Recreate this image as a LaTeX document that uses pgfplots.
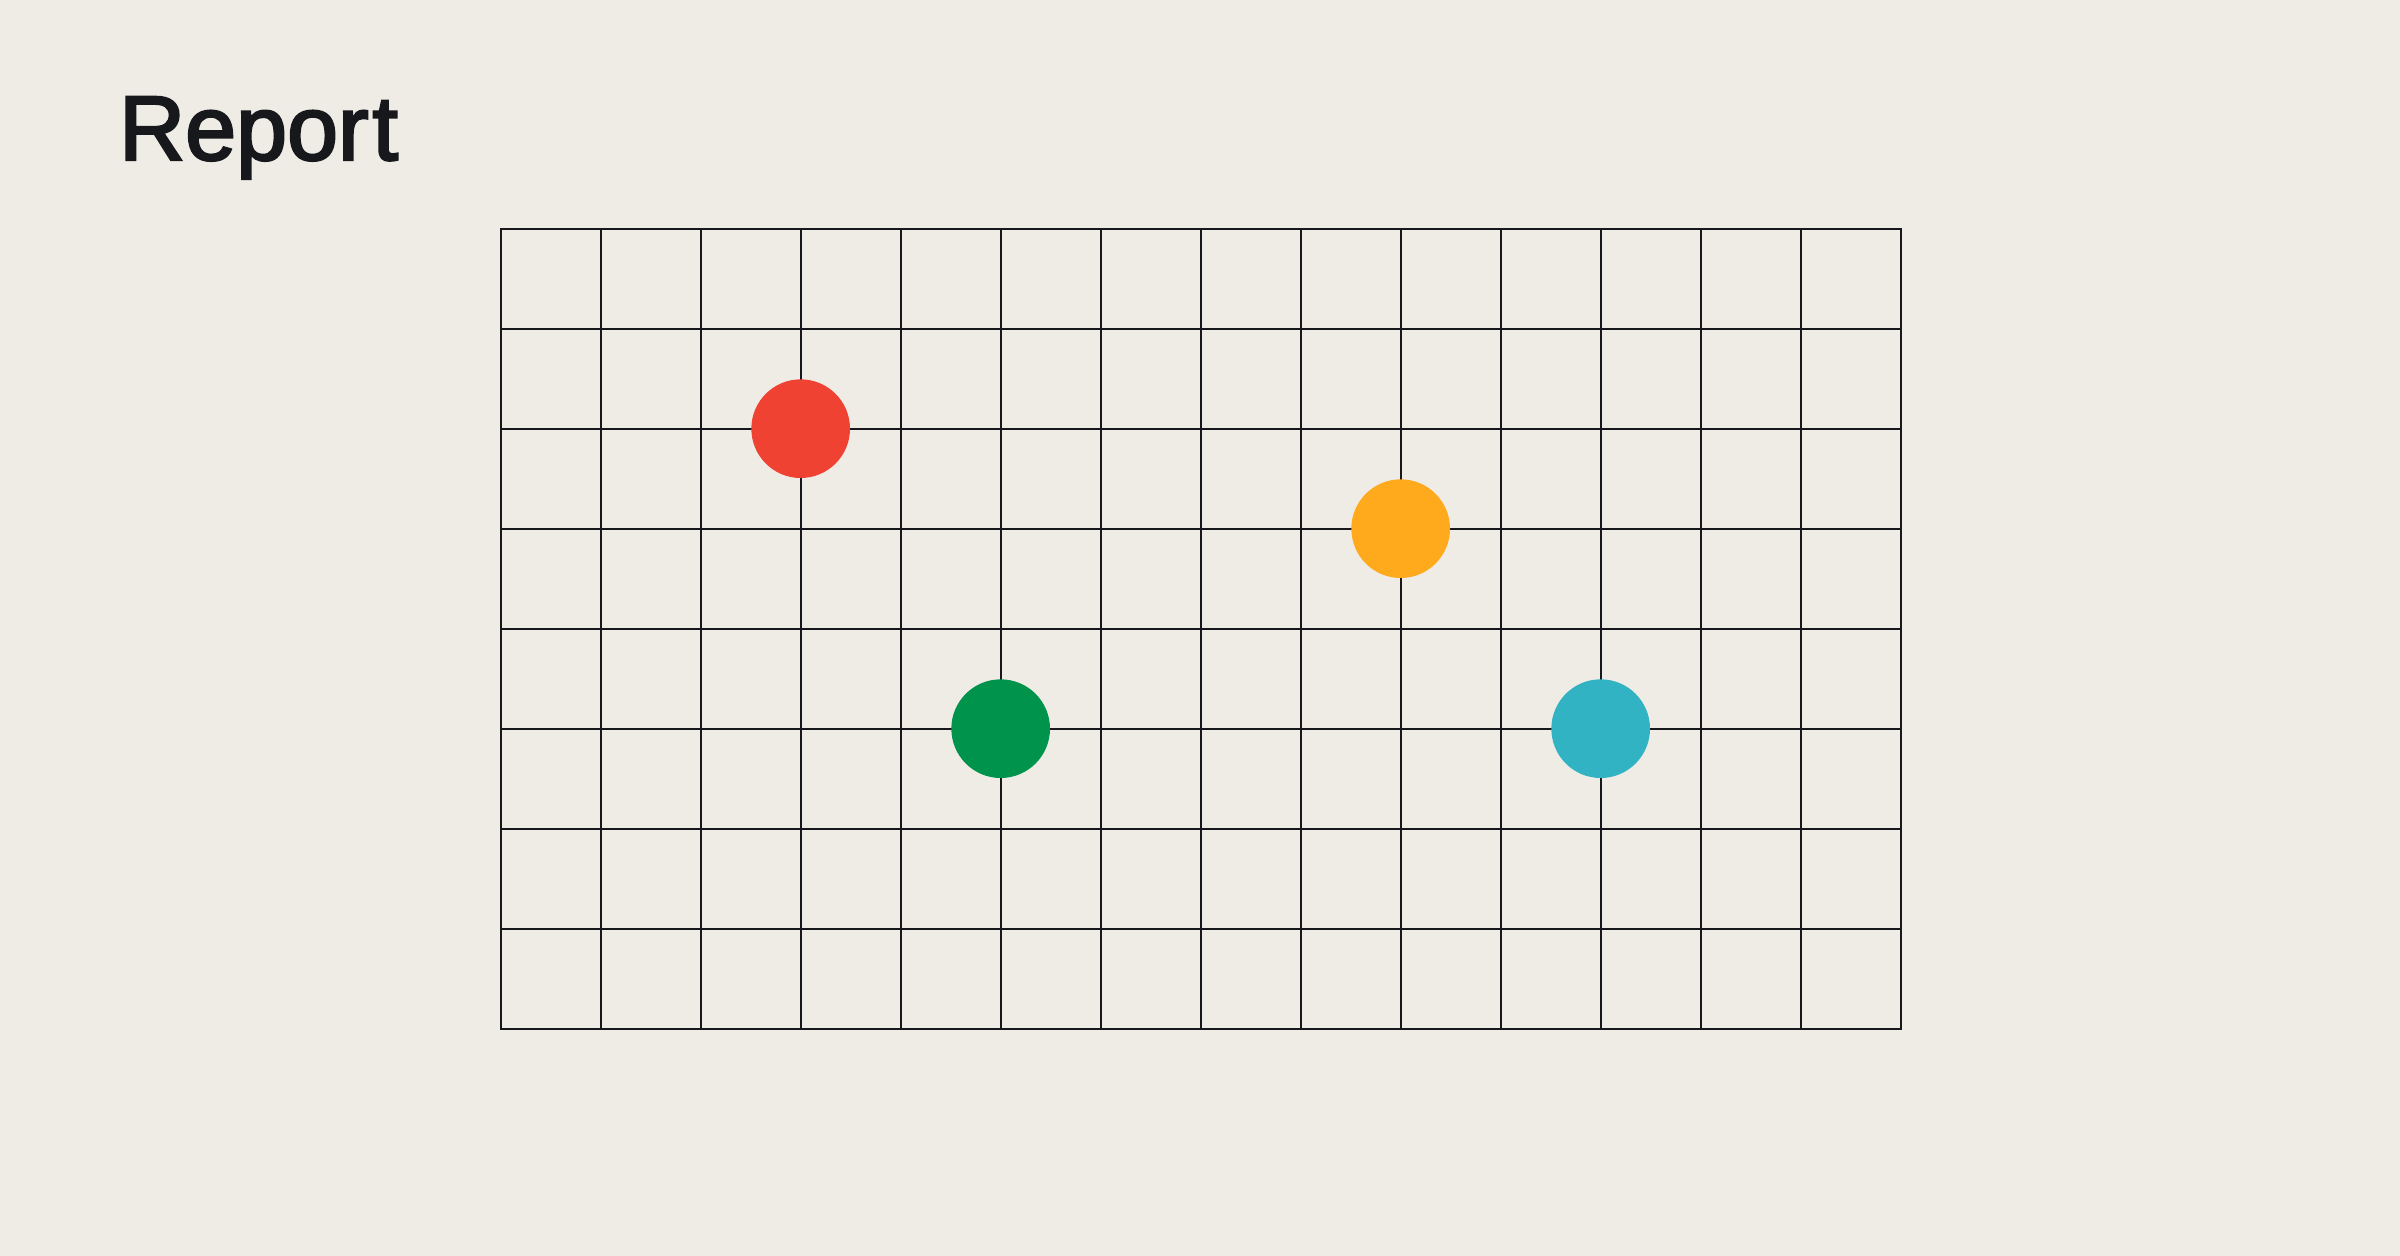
\documentclass[border=0pt]{standalone}
\usepackage{pgfplots}
\pgfplotsset{compat=1.18}
\usepackage{fontspec}
\setmainfont{Liberation Sans}
\newfontfamily\titlefont[FakeBold=2.6]{Liberation Sans}
\definecolor{bg}{HTML}{EFECE6}
\definecolor{cred}{HTML}{F04233}
\definecolor{corange}{HTML}{FFA91C}
\definecolor{cgreen}{HTML}{00934C}
\definecolor{cteal}{HTML}{31B3C3}
\definecolor{ink}{HTML}{16181B}
\begin{document}
\begin{tikzpicture}
\fill[bg] (0,0) rectangle (720pt,376.8pt);
\useasboundingbox (0,0) rectangle (720pt,376.8pt);
\node[anchor=base west, inner sep=0pt, text=ink, font=\titlefont\fontsize{27.5}{30}\selectfont] at (35.5pt,328.8pt) {Repor\kern1.2pt t};
\begin{axis}[
  at={(150.2pt,68.2pt)}, anchor=south west,
  scale only axis, width=420pt, height=240pt,
  xmin=0, xmax=14, ymin=0, ymax=8,
  xtick={0,...,14}, ytick={0,...,8},
  xticklabels={}, yticklabels={},
  major tick length=0pt,
  grid=major,
  major grid style={ink, line width=0.55pt},
  axis line style={ink, line width=0.55pt},
]
\addplot[only marks, mark=*, mark size=14.6pt, color=cred, mark options={draw=none}] coordinates {(3,6)};
\addplot[only marks, mark=*, mark size=14.6pt, color=cgreen, mark options={draw=none}] coordinates {(5,3)};
\addplot[only marks, mark=*, mark size=14.6pt, color=corange, mark options={draw=none}] coordinates {(9,5)};
\addplot[only marks, mark=*, mark size=14.6pt, color=cteal, mark options={draw=none}] coordinates {(11,3)};
\end{axis}
\end{tikzpicture}
\end{document}
